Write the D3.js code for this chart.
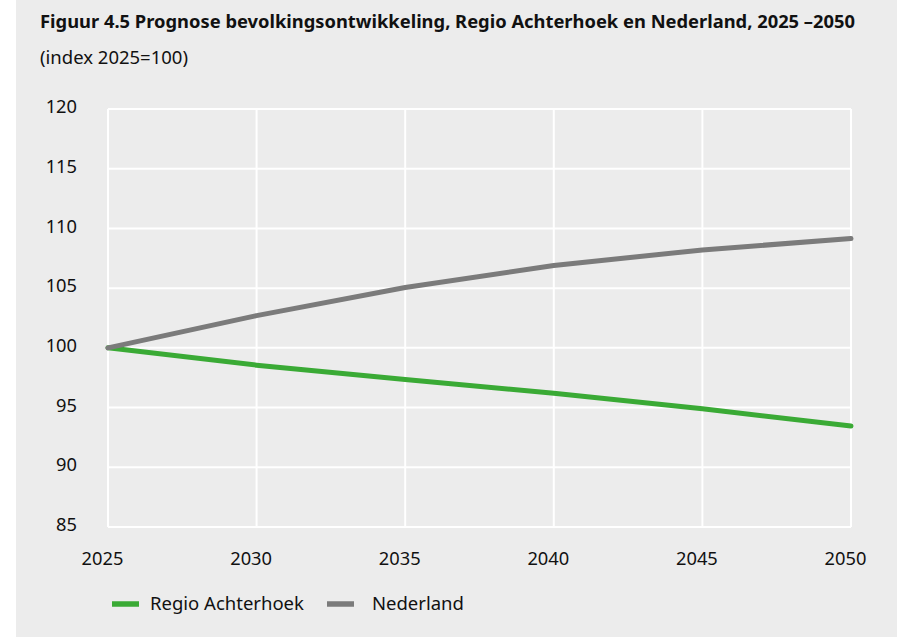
<!DOCTYPE html>
<html>
<head>
<meta charset="utf-8">
<script src="https://cdn.jsdelivr.net/npm/d3@7"></script>
<style>
	body { margin: 0; background: #fff; }
	svg { display: block; }
	.tick text { font-family: "Noto Sans", sans-serif; font-size: 18.3px; fill: #111; }
</style>
</head>
<body>
<div id="chart"></div>
<script>
var years = [2025, 2030, 2035, 2040, 2045, 2050];
var achterhoek = [100, 98.55, 97.35, 96.2, 94.9, 93.45];
var nederland = [100, 102.7, 105.05, 106.9, 108.2, 109.15];
var yTicks = [85, 90, 95, 100, 105, 110, 115, 120];
var seriesNames = ["Regio Achterhoek", "Nederland"];
var seriesColors = ["#3aaa35", "#7b7b7b"];

var width = 897, height = 637;
var margin = {top: 109, right: 46, bottom: 110, left: 108};

var svg = d3.select("#chart").append("svg")
	.attr("width", width)
	.attr("height", height);

// grey panel
svg.append("rect")
	.attr("x", 16)
	.attr("y", 0)
	.attr("width", width - 16)
	.attr("height", height)
	.attr("fill", "#ececec");

svg.append("text")
	.attr("x", 40)
	.attr("y", 28)
	.attr("font-family", "'Noto Sans', sans-serif")
	.attr("font-weight", "bold")
	.attr("font-size", 17.5)
	.attr("fill", "#111")
	.attr("textLength", 815)
	.attr("lengthAdjust", "spacingAndGlyphs")
	.text("Figuur 4.5 Prognose bevolkingsontwikkeling, Regio Achterhoek en Nederland, 2025 \u20132050");

svg.append("text")
	.attr("x", 40)
	.attr("y", 64)
	.attr("font-family", "'Noto Sans', sans-serif")
	.attr("font-size", 18.5)
	.attr("fill", "#111")
	.text("(index 2025=100)");

var x = d3.scaleLinear()
	.domain([2025, 2050])
	.range([margin.left, width - margin.right]);

var y = d3.scaleLinear()
	.domain([85, 120])
	.range([height - margin.bottom, margin.top]);

// gridlines
var grid = svg.append("g");

grid.selectAll("line.h")
	.data(yTicks)
	.enter().append("line")
	.attr("class", "h")
	.attr("x1", x(2025))
	.attr("x2", x(2050))
	.attr("y1", function(d) { return y(d); })
	.attr("y2", function(d) { return y(d); })
	.attr("stroke", "#fff")
	.attr("stroke-width", 2);

grid.selectAll("line.v")
	.data(years)
	.enter().append("line")
	.attr("class", "v")
	.attr("x1", function(d) { return x(d); })
	.attr("x2", function(d) { return x(d); })
	.attr("y1", y(120))
	.attr("y2", y(85))
	.attr("stroke", "#fff")
	.attr("stroke-width", 2);

// axes
var yAxis = d3.axisLeft(y)
	.tickValues(yTicks)
	.tickSize(0)
	.tickPadding(31);

svg.append("g")
	.attr("transform", "translate(" + margin.left + ",0)")
	.call(yAxis)
	.call(function(g) { g.select(".domain").remove(); })
	.selectAll("text")
	.attr("dy", "0.2em");

var xAxis = d3.axisBottom(x)
	.tickValues(years)
	.tickFormat(d3.format("d"))
	.tickSize(0)
	.tickPadding(25);

svg.append("g")
	.attr("transform", "translate(0," + y(85) + ")")
	.call(xAxis)
	.call(function(g) { g.select(".domain").remove(); })
	.selectAll("text")
	.attr("x", -6);

// lines
var line = d3.line()
	.x(function(d, i) { return x(years[i]); })
	.y(function(d) { return y(d); });

[achterhoek, nederland].forEach(function(s, i) {
	svg.append("path")
		.datum(s)
		.attr("fill", "none")
		.attr("stroke", seriesColors[i])
		.attr("stroke-width", 5)
		.attr("stroke-linecap", "round")
		.attr("stroke-linejoin", "round")
		.attr("d", line);
});

// legend
var legendX = [112, 327];
var legendTextX = [150, 372];
var legend = svg.append("g");

seriesNames.forEach(function(name, i) {
	legend.append("line")
		.attr("x1", legendX[i])
		.attr("x2", legendX[i] + 27)
		.attr("y1", 604)
		.attr("y2", 604)
		.attr("stroke", seriesColors[i])
		.attr("stroke-width", 5.5);
	legend.append("text")
		.attr("x", legendTextX[i])
		.attr("y", 610)
		.attr("font-family", "'Noto Sans', sans-serif")
		.attr("font-size", 18.5)
		.attr("fill", "#111")
		.text(name);
});
</script>
</body>
</html>
